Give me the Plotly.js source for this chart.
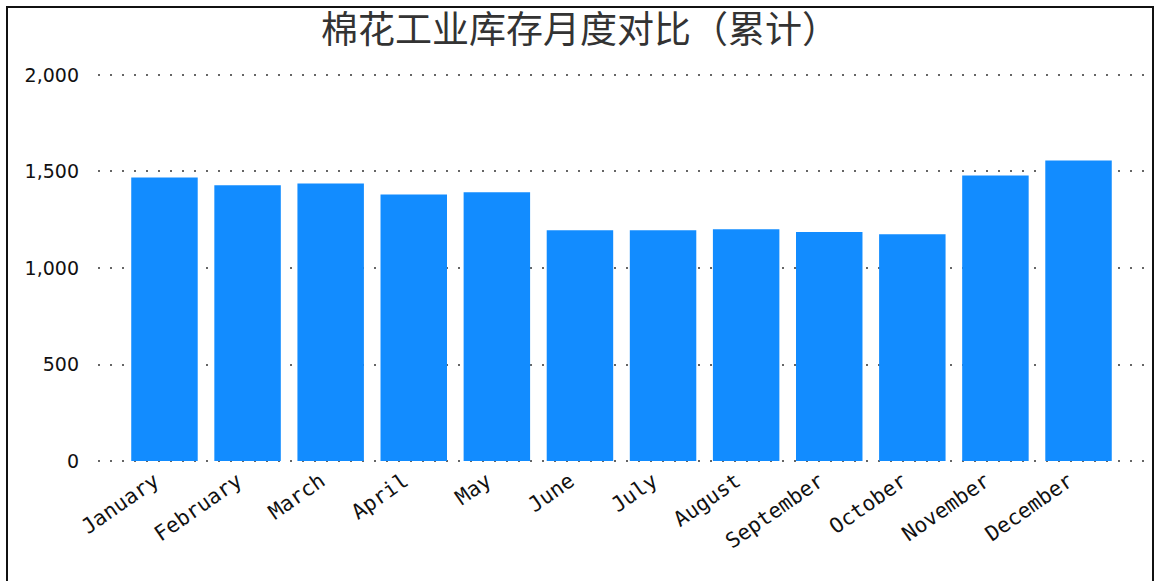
<!DOCTYPE html>
<html>
<head>
<meta charset="utf-8">
<script src="https://cdn.plot.ly/plotly-3.0.1.min.js"></script>
<style>
html,body{margin:0;padding:0;background:#fff;}
#wrap{position:relative;width:1160px;height:581px;overflow:hidden;}
#chart{width:1160px;height:581px;}
#frame{position:absolute;left:6px;top:6px;width:1144px;height:600px;border:2px solid #111;pointer-events:none;}
</style>
</head>
<body>
<div id="wrap">
<div id="chart"></div>
<div id="frame"></div>
</div>
<script>
const months = ["January","February","March","April","May","June","July","August","September","October","November","December"];
const inventory = [1469, 1428, 1438, 1381, 1392, 1196, 1196, 1201, 1186, 1175, 1479, 1557];
const yTicks = [0, 500, 1000, 1500, 2000];
const chartTitle = "棉花工业库存月度对比（累计）";

const trace = {
  type: "bar",
  x: months,
  y: inventory,
  marker: {color: "#128CFF"},
  hoverinfo: "x+y"
};

const layout = {
  width: 1160,
  height: 581,
  margin: {l: 98, r: 15, t: 72, b: 117},
  paper_bgcolor: "#ffffff",
  plot_bgcolor: "rgba(0,0,0,0)",
  bargap: 0.2,
  showlegend: false,
  title: {
    text: chartTitle,
    font: {family: "Noto Sans CJK SC", size: 37, color: "#333"},
    x: 0.5, xanchor: "center",
    y: 0.948, yanchor: "middle"
  },
  separators: ".,",
  xaxis: {
    type: "category",
    range: [-0.8, 11.8],
    tickangle: -35,
    ticklabelshift: -10,
    showgrid: false,
    zeroline: false,
    showline: false,
    ticks: "",
    tickfont: {family: "DejaVu Sans Mono", size: 21, color: "#111"}
  },
  yaxis: {
    range: [-15, 2015],
    tickvals: yTicks,
    tickformat: ",",
    showgrid: true,
    gridcolor: "#666",
    gridwidth: 2,
    griddash: "2px,10px",
    zeroline: false,
    showline: false,
    ticks: "",
    ticklabelstandoff: 18,
    tickfont: {family: "DejaVu Sans", size: 19, color: "#111"}
  }
};

Plotly.newPlot("chart", [trace], layout, {displayModeBar: false, staticPlot: true});
</script>
</body>
</html>
